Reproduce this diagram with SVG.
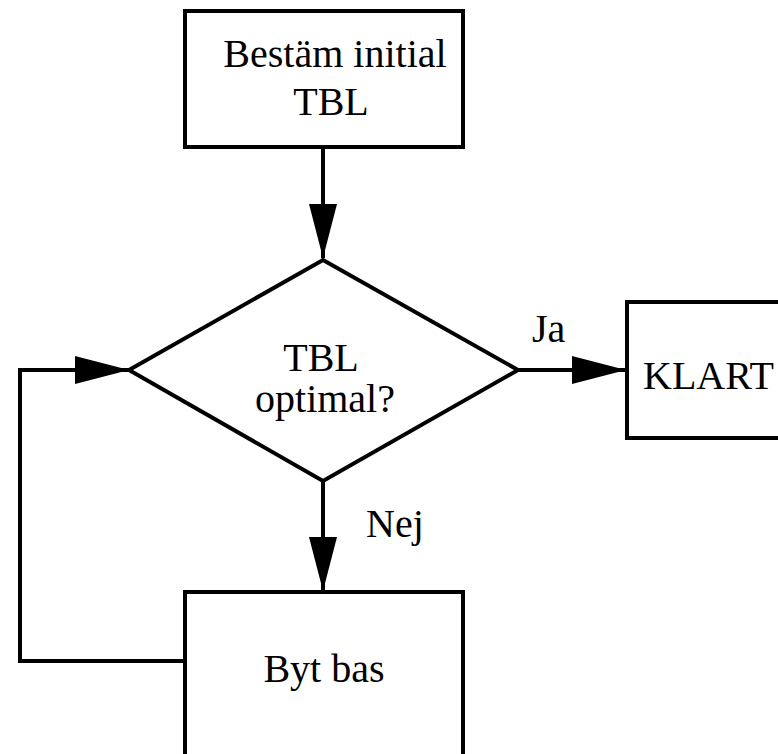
<svg xmlns="http://www.w3.org/2000/svg" width="778" height="754" viewBox="0 0 778 754">
<style>
.box{fill:#fff;stroke:#000;stroke-width:4}
.ln{fill:none;stroke:#000;stroke-width:4}
text{font-family:"Liberation Serif","Times New Roman",serif;font-size:40px;fill:#000}
.c{text-anchor:middle}
</style>
<defs>
<marker id="ah" markerUnits="userSpaceOnUse" markerWidth="54" markerHeight="28" refX="54" refY="14" orient="auto" viewBox="0 0 54 28">
<polygon points="0,0 54,14 0,28" fill="#000"/>
</marker>
</defs>
<g id="connectors">
<line class="ln" x1="323" y1="147" x2="323" y2="258" marker-end="url(#ah)"/>
<line class="ln" x1="518" y1="370" x2="626" y2="370" marker-end="url(#ah)"/>
<line class="ln" x1="323" y1="481" x2="323" y2="591" marker-end="url(#ah)"/>
<polyline class="ln" points="185,661 20,661 20,370 129,370" marker-end="url(#ah)"/>
<text x="532" y="342">Ja</text>
<text x="366" y="537">Nej</text>
</g>
<g id="n1">
<rect class="box" x="185" y="11" width="278" height="136"/>
<text class="c" x="335" y="67">Bestäm initial</text>
<text class="c" x="331" y="115">TBL</text>
</g>
<g id="n2">
<polygon class="box" points="323,260 518,370 323,481 129,370"/>
<text class="c" x="321" y="371">TBL</text>
<text class="c" x="325" y="412">optimal?</text>
</g>
<g id="n3">
<rect class="box" x="627" y="302" width="170" height="136"/>
<text x="643" y="389">KLART</text>
</g>
<g id="n4">
<rect class="box" x="185" y="592" width="278" height="180"/>
<text class="c" x="324" y="682">Byt bas</text>
</g>
</svg>
